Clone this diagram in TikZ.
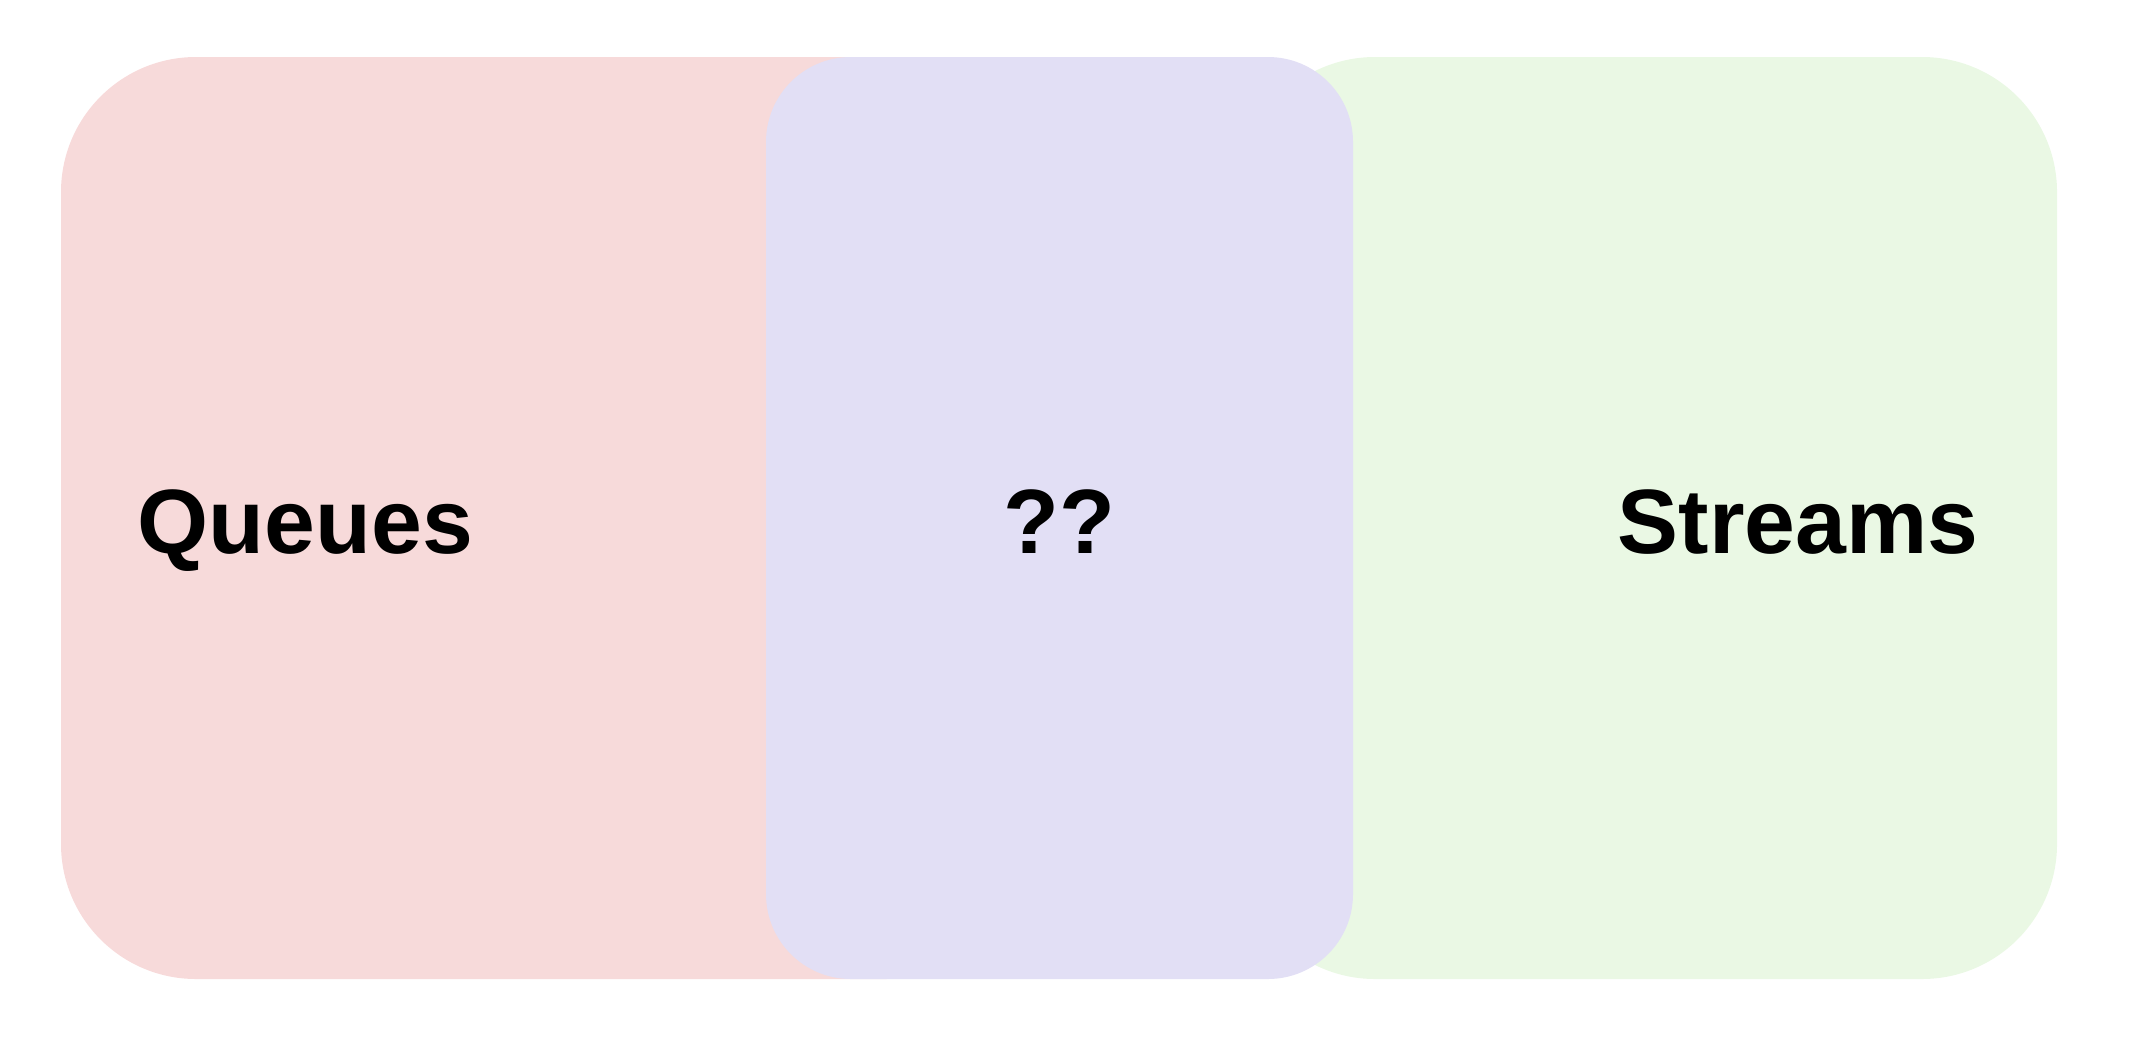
\documentclass[tikz,border=0pt]{standalone}
\usepackage{fontspec}
\setmainfont{Liberation Sans}
\definecolor{SoftRed}{RGB}{247,218,218}
\definecolor{SoftBlue}{RGB}{226,223,245}
\definecolor{SoftGreen}{RGB}{234,248,228}
\begin{document}
\begin{tikzpicture}[label/.style={font=\fontsize{26}{30}\selectfont\bfseries,inner sep=0pt}]

\useasboundingbox (0,0) rectangle (21.4,10.38);

\fill[SoftRed,rounded corners=1.35cm] (0.61,0.59) rectangle (10.2,9.81);
\fill[SoftGreen,rounded corners=1.35cm] (12.4,0.59) rectangle (20.57,9.81);
\fill[SoftBlue,rounded corners=0.85cm] (7.66,0.59) rectangle (13.53,9.81);

\node[label,anchor=base west] (queues) at (1.37,4.85) {Queues};
\node[label,anchor=base] (unknown) at (10.595,4.85) {??};
\node[label,anchor=base east] (streams) at (19.79,4.85) {Streams};

\end{tikzpicture}
\end{document}
